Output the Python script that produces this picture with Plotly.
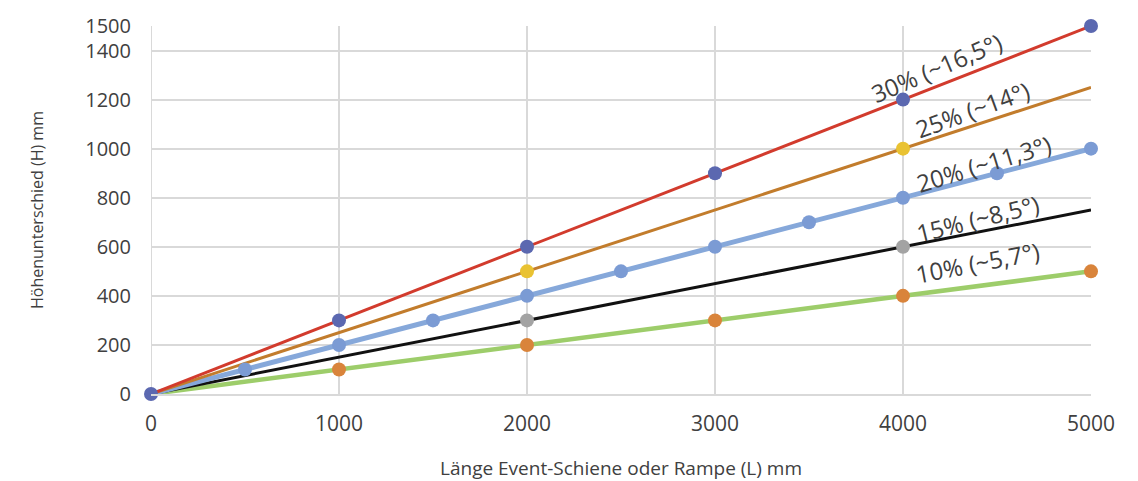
import plotly.graph_objects as go

# ---- data ----
length_mm = [0, 500, 1000, 1500, 2000, 2500, 3000, 3500, 4000, 4500, 5000]
h_30 = [0, 150, 300, 450, 600, 750, 900, 1050, 1200, 1350, 1500]
h_25 = [0, 125, 250, 375, 500, 625, 750, 875, 1000, 1125, 1250]
h_20 = [0, 100, 200, 300, 400, 500, 600, 700, 800, 900, 1000]
h_15 = [0, 75, 150, 225, 300, 375, 450, 525, 600, 675, 750]
h_10 = [0, 50, 100, 150, 200, 250, 300, 350, 400, 450, 500]

# which points carry a marker
marker_x_30 = [0, 1000, 2000, 3000, 4000, 5000]
marker_x_25 = [2000, 4000]
marker_x_20 = [500, 1000, 1500, 2000, 2500, 3000, 3500, 4000, 4500, 5000]
marker_x_15 = [2000, 4000]
marker_x_10 = [1000, 2000, 3000, 4000, 5000]

labels = ["30% (~16,5°)", "25% (~14°)", "20% (~11,3°)", "15% (~8,5°)", "10% (~5,7°)"]
y_ticks = [0, 200, 400, 600, 800, 1000, 1200, 1400, 1500]
x_ticks = [0, 1000, 2000, 3000, 4000, 5000]

# ---- styles ----
series = [
    # (values, marker xs, line color, line width, marker color)
    (h_10, marker_x_10, "#9dcd6a", 4.5, "#d9843b"),
    (h_15, marker_x_15, "#111111", 3, "#a3a3a3"),
    (h_20, marker_x_20, "#86a8da", 5, "#7b9bd4"),
    (h_25, marker_x_25, "#c27c2c", 3, "#e9c232"),
    (h_30, marker_x_30, "#d23b2d", 3, "#5b68b0"),
]
label_pos = [
    (4180, 1330, -23),
    (4370, 1158, -20),
    (4430, 941, -17),
    (4395, 717, -14),
    (4395, 534, -11),
]

fig = go.Figure()
for vals, mx, lc, lw, mc in series:
    fig.add_trace(go.Scatter(x=length_mm, y=vals, mode="lines",
                             line=dict(color=lc, width=lw), hoverinfo="skip",
                             showlegend=False, cliponaxis=False))
for vals, mx, lc, lw, mc in series:
    my = [vals[length_mm.index(x)] for x in mx]
    fig.add_trace(go.Scatter(x=mx, y=my, mode="markers", cliponaxis=False,
                             marker=dict(color=mc, size=14), showlegend=False))

font_family = "Open Sans, Noto Sans, sans-serif"
for text, (lx, ly, ang) in zip(labels, label_pos):
    fig.add_annotation(x=lx, y=ly, text=text, showarrow=False, textangle=ang,
                       font=dict(family=font_family, size=24, color="#404040"))

fig.update_layout(
    width=1138, height=481,
    margin=dict(l=143, r=55, t=18, b=95),
    paper_bgcolor="white", plot_bgcolor="white",
    font=dict(family=font_family, color="#404040"),
)
fig.update_xaxes(range=[0, 5000], tickvals=x_ticks, showgrid=True, automargin=False,
                 gridcolor="#d9d9d9", gridwidth=2, zeroline=False,
                 showline=True, linecolor="#d9d9d9", linewidth=2, mirror=False,
                 tickfont=dict(size=21, color="#404040"), ticklabelstandoff=10,
                 title=dict(text="Länge Event-Schiene oder Rampe (L) mm",
                            font=dict(size=19, color="#404040"), standoff=25))
fig.update_yaxes(range=[0, 1500], tickvals=y_ticks, showgrid=True, automargin=False,
                 gridcolor="#d9d9d9", gridwidth=2, zeroline=False,
                 showline=False,
                 tickfont=dict(size=20, color="#404040"), ticklabelstandoff=19,
                 title=dict(text="Höhenunterschied (H) mm",
                            font=dict(size=16, color="#404040"), standoff=37))
fig.add_shape(type="line", xref="x", yref="paper", x0=0, x1=0, y0=0, y1=1,
              line=dict(color="#d9d9d9", width=2), layer="below")

fig.write_html("out.html")
